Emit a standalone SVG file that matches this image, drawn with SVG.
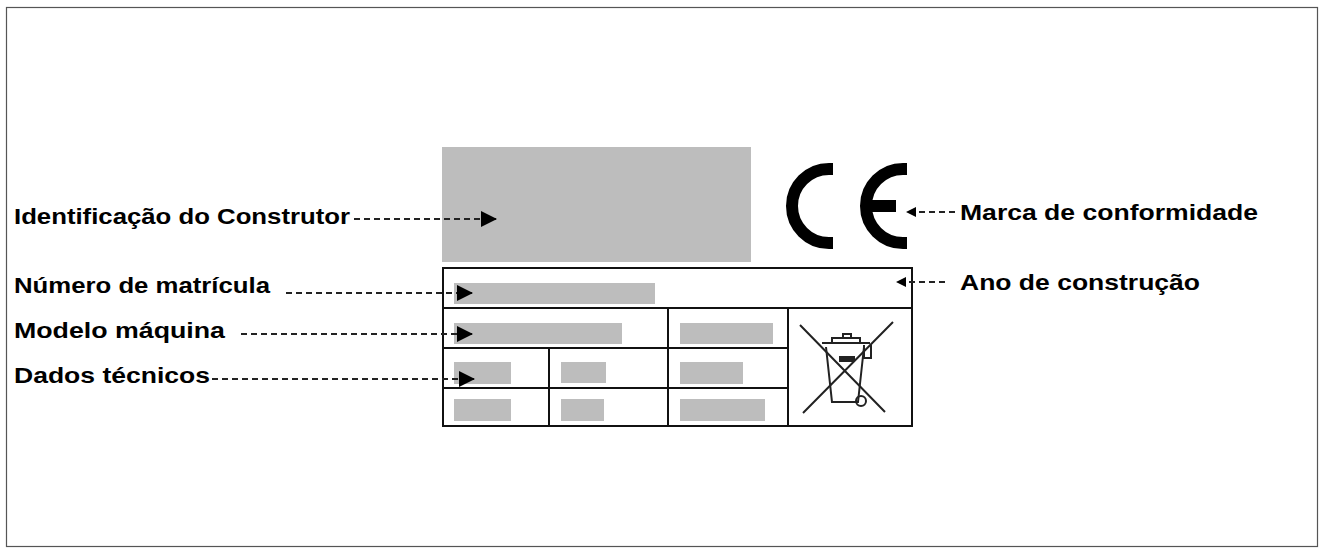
<svg xmlns="http://www.w3.org/2000/svg" width="1323" height="551" viewBox="0 0 1323 551">
<style>
.t{font-family:"Liberation Sans",Arial,sans-serif;font-weight:bold;font-size:22px;fill:#000}
.g{fill:#bdbdbd}
.ln{stroke:#111;stroke-width:2;fill:none}
.d{stroke:#222;stroke-width:1.8;stroke-dasharray:6,4;fill:none}
.ce{stroke:#000;stroke-width:12;fill:none}
</style>
<defs>
<marker id="a" markerWidth="10" markerHeight="10" refX="9" refY="5" orient="auto" markerUnits="userSpaceOnUse" viewBox="0 0 10 10"><path d="M0,0 L10,5 L0,10 z" fill="#000"/></marker>
<marker id="b" markerWidth="16" markerHeight="16" refX="15" refY="8" orient="auto" markerUnits="userSpaceOnUse" viewBox="0 0 16 16"><path d="M0,0 L16,8 L0,16 z" fill="#000"/></marker>
</defs>
<rect x="0" y="0" width="1323" height="551" fill="#fff"/>
<rect x="6.5" y="7.5" width="1311" height="539" fill="none" stroke="#555" stroke-width="1.2"/>
<g id="plate">
<rect class="g" x="442" y="147" width="309" height="115"/>
<rect class="ln" x="443" y="268" width="469" height="158"/>
<path class="ln" d="M443 308H912M443 348H788M443 388H788M668 308V426M788 308V426M549 348V426"/>
<rect class="g" x="454" y="283" width="201" height="21"/>
<rect class="g" x="454" y="323" width="168" height="21"/>
<rect class="g" x="680" y="323" width="93" height="21"/>
<rect class="g" x="454" y="362" width="57" height="22"/>
<rect class="g" x="561" y="362" width="45" height="21"/>
<rect class="g" x="680" y="362" width="63" height="22"/>
<rect class="g" x="454" y="399" width="57" height="22"/>
<rect class="g" x="561" y="399" width="43" height="22"/>
<rect class="g" x="680" y="399" width="85" height="22"/>
</g>
<g id="ce">
<path class="ce" d="M833 169H829A37 37 0 0 0 829 243H833"/>
<path class="ce" d="M907 169H903A37 37 0 0 0 903 243H907M866 206H896"/>
</g>
<g id="weee" stroke="#222" fill="none" stroke-width="2">
<path d="M800 325L885 412M893 322L803 413"/>
<path d="M822 343H870M826 347L832 402H858L864 347"/>
<path d="M832 343V338H860V343"/>
<rect x="843" y="334" width="8" height="4"/>
<path d="M864 345V358H871V345"/>
<circle cx="861" cy="401" r="5"/>
<rect x="840" y="357" width="14" height="4" fill="#222"/>
</g>
<g id="labels">
<text class="t" x="14" y="224" textLength="336" lengthAdjust="spacingAndGlyphs">Identificação do Construtor</text>
<text class="t" x="14" y="293" textLength="256" lengthAdjust="spacingAndGlyphs">Número de matrícula</text>
<text class="t" x="14" y="338" textLength="211" lengthAdjust="spacingAndGlyphs">Modelo máquina</text>
<text class="t" x="14" y="383" textLength="196" lengthAdjust="spacingAndGlyphs">Dados técnicos</text>
<text class="t" x="960" y="220" textLength="298" lengthAdjust="spacingAndGlyphs">Marca de conformidade</text>
<text class="t" x="960" y="290" textLength="240" lengthAdjust="spacingAndGlyphs">Ano de construção</text>
</g>
<g id="connectors">
<path class="d" d="M354 219H496" marker-end="url(#b)"/>
<path class="d" d="M286 293H472" marker-end="url(#b)"/>
<path class="d" d="M241 334H472" marker-end="url(#b)"/>
<path class="d" d="M212 379H474" marker-end="url(#b)"/>
<path class="d" d="M955 212H907" marker-end="url(#a)"/>
<path class="d" d="M945 282H897" marker-end="url(#a)"/>
</g>
</svg>
